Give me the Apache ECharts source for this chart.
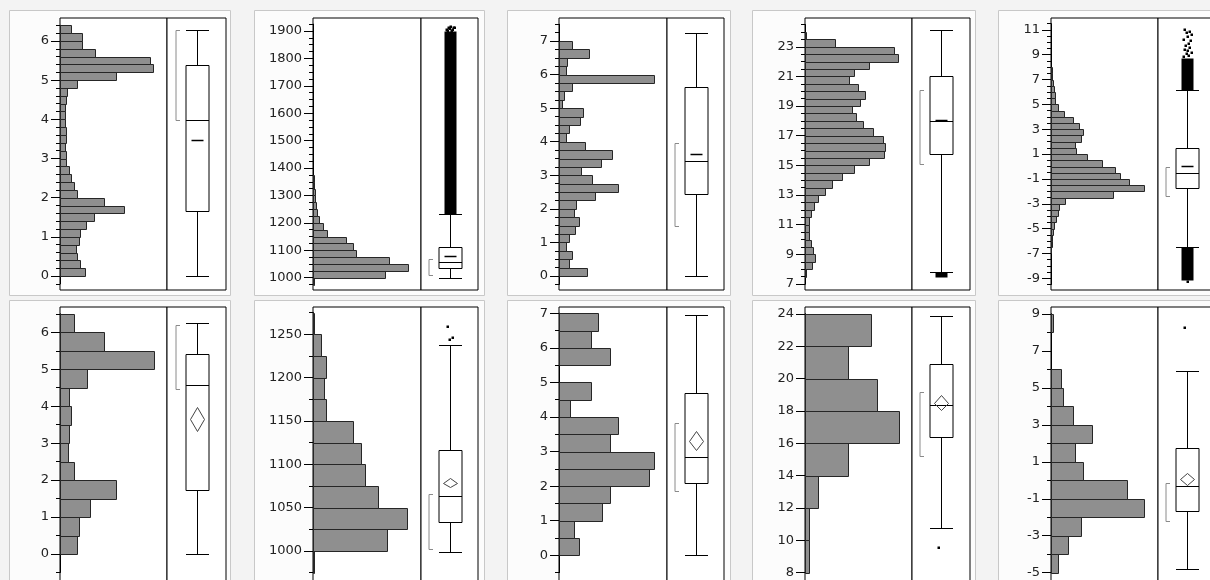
<!DOCTYPE html>
<html>
<head>
<meta charset="utf-8">
<script src="https://cdn.jsdelivr.net/npm/echarts@6/dist/echarts.min.js"></script>
<style>
html, body { margin: 0; padding: 0; background: #f3f3f3; }
#main { width: 1210px; height: 580px; }
</style>
</head>
<body>
<div id="main"></div>
<script>
// panel order: top row left -> right, then bottom row left -> right
// histogram counts, lowest bin first
var histCounts = [
    [74, 59, 52, 48, 56, 59, 78, 101, 192, 132, 52, 41, 33, 26, 18, 18, 15, 18, 18, 14, 14, 15, 18, 22, 52, 169, 281, 270, 105, 67, 67, 33],
    [2, 215, 283, 228, 128, 120, 98, 41, 30, 19, 13, 9, 7, 5, 3, 2],
    [83, 30, 38, 22, 30, 49, 60, 45, 52, 108, 176, 98, 67, 124, 157, 78, 22, 31, 64, 71, 8, 15, 38, 282, 22, 25, 90, 38],
    [3, 22, 29, 25, 17, 13, 13, 13, 17, 28, 40, 59, 82, 112, 148, 194, 239, 242, 235, 206, 175, 153, 142, 165, 182, 160, 133, 148, 194, 280, 268, 89, 3],
    [1, 2, 4, 6, 10, 16, 20, 25, 43, 186, 281, 236, 209, 193, 153, 108, 76, 73, 89, 96, 83, 66, 40, 20, 13, 11, 8, 5, 3, 2],
    [50, 57, 90, 170, 42, 23, 27, 34, 27, 80, 282, 132, 42],
    [2, 221, 281, 194, 154, 142, 119, 40, 33, 40, 25, 2],
    [61, 45, 128, 151, 268, 283, 151, 177, 34, 95, 0, 151, 94, 117],
    [13, 13, 40, 130, 282, 217, 130, 198],
    [21, 51, 89, 281, 228, 96, 73, 123, 66, 36, 29, 0, 0, 6]
];
var binStart = [0, 975, 0, 7.5, -7, 0, 975, 0, 8, -5];
var binWidth = [0.2, 25, 0.25, 0.5, 0.5, 0.5, 25, 0.5, 2, 1];

// [lower whisker, q1, median, q3, upper whisker]
var boxStats = [
    [0, 1.65, 3.98, 5.38, 6.28],
    [1000, 1034, 1056, 1111, 1231],
    [0, 2.45, 3.44, 5.62, 7.25],
    [7.81, 15.77, 17.97, 21.04, 24.1],
    [-6.46, -1.7, -0.52, 1.52, 6.19],
    [0, 1.72, 4.57, 5.42, 6.26],
    [999, 1033, 1064, 1116, 1238],
    [0, 2.1, 2.83, 4.7, 6.95],
    [10.78, 16.38, 18.37, 20.93, 23.88],
    [-4.78, -1.66, -0.33, 1.75, 5.92]
];
var means = [3.47, 1080, 3.63, 18.05, 0.04, 3.65, 1079, 3.32, 18.52, 0.09];
var meanCI = [null, null, null, null, null, [3.33, 3.97], [1073.5, 1084.5], [3.04, 3.6], [18.05, 18.99], [-0.24, 0.42]];
var shortestHalf = [[3.98, 6.28], [1010, 1067], [1.49, 3.96], [15.06, 20.1], [-2.35, -0.01],
                    [4.47, 6.2], [1002, 1066], [1.85, 3.84], [15.19, 19.2], [-2.2, -0.13]];
var outlierRuns = [[], [[1232, 1900]], [], [[7.5, 7.8]], [[6.2, 8.72], [-9.12, -6.46]], [], [], [], [], []];
var outlierPoints = [
    [], [1903, 1907, 1911, 1914, 1917, 1909, 1913, 1905, 1915], [], [],
    [11.05, 10.95, 10.8, 10.7, 10.5, 10.3, 10.15, 9.95, 9.8, 9.65, 9.5, 9.35, 9.25, 9.1, 9.0, 8.9, -9.2],
    [], [1260, 1247, 1245], [], [9.57], [8.3]
];

// axis ranges and ticks
var yRange = [[-0.357, 6.587], [955.1, 1947.5], [-0.417, 7.686], [6.595, 24.94], [-9.942, 11.958],
              [-0.866, 6.685], [959.6, 1281.5], [-0.888, 7.182], [7.18, 24.43], [-5.72, 9.378]];
var tickMarks = [[-0.2, 6.4, 0.2], [975, 1925, 25], [-0.25, 7.5, 0.25], [7, 24.5, 0.5], [-9.5, 11.5, 0.5],
                 [-0.5, 6.5, 0.5], [975, 1275, 25], [-0.5, 7, 0.5], [8, 24, 2], [-5, 9, 1]];
var tickLabels = [[0, 6, 1], [1000, 1900, 100], [0, 7, 1], [7, 23, 2], [-9, 11, 2],
                  [0, 6, 1], [1000, 1250, 50], [0, 7, 1], [8, 24, 2], [-5, 9, 2]];
var countMax = 322;

// layout
var colX = [[60, 167, 226], [313, 421, 478], [559, 667, 724], [805, 912, 970], [1051, 1158, 1216]];
var rowY = [[18, 290], [307, 586]];
var panelX = [[9, 230], [254, 484], [507, 730], [752, 975], [998, 1224]];
var panelY = [[10, 295], [300, 600]];
var jitter = [-3, 2, -1, 4, 0, -4, 3, 1, -2, 2, -3, 0, 4, -1, 1, -4, 0];

var option = {
    backgroundColor: '#f3f3f3',
    animation: false,
    grid: [], xAxis: [], yAxis: [], series: [],
    graphic: { elements: [] }
};

function addGrid(g, xa, ya) {
    g.outerBoundsMode = 'none';
    g.containLabel = false;
    option.grid.push(g);
    var i = option.grid.length - 1;
    xa.gridIndex = i;
    ya.gridIndex = i;
    option.xAxis.push(xa);
    option.yAxis.push(ya);
    return i;
}

function hiddenAxis(min, max) {
    return { type: 'value', min: min, max: max, show: false, splitLine: { show: false } };
}

function tickAxis(t, len, withLabels) {
    return {
        type: 'value', min: t[0], max: t[1], interval: t[2],
        position: 'left',
        axisLine: { show: true, onZero: false, lineStyle: { color: '#000', width: 1 } },
        axisTick: { show: true, inside: false, length: len, lineStyle: { color: '#000', width: 1 } },
        axisLabel: {
            show: withLabels, margin: 11, color: '#222',
            fontSize: 13, fontFamily: 'DejaVu Sans',
            formatter: function (v) { return String(v); }
        },
        splitLine: { show: false }
    };
}

for (var p = 0; p < 10; p++) {
    (function (p) {
        var row = Math.floor(p / 5), col = p % 5;
        var cx = colX[col], ry = rowY[row], r = yRange[p];
        var yPix = function (v) {
            return ry[1] - (v - r[0]) / (r[1] - r[0]) * (ry[1] - ry[0]);
        };

        option.graphic.elements.push({
            type: 'rect', z: -10, silent: true,
            shape: { x: panelX[col][0] + 0.5, y: panelY[row][0] + 0.5,
                     width: panelX[col][1] - panelX[col][0], height: panelY[row][1] - panelY[row][0] },
            style: { fill: '#fcfcfc', stroke: '#c8c8c8', lineWidth: 1 }
        });

        var frame = { show: true, backgroundColor: '#fff', borderColor: '#000', borderWidth: 1 };
        var hg = addGrid(Object.assign({ left: cx[0], top: ry[0], width: cx[1] - cx[0], height: ry[1] - ry[0] }, frame),
            hiddenAxis(0, countMax), hiddenAxis(r[0], r[1]));
        var bg = addGrid(Object.assign({ left: cx[1], top: ry[0], width: cx[2] - cx[1], height: ry[1] - ry[0] }, frame),
            hiddenAxis(0, 1), hiddenAxis(r[0], r[1]));

        var t = tickMarks[p];
        addGrid({ left: cx[0], top: yPix(t[1]), width: 10, height: yPix(t[0]) - yPix(t[1]), z: 5 },
            hiddenAxis(0, 1), tickAxis(t, 4, false));
        var L = tickLabels[p];
        addGrid({ left: cx[0], top: yPix(L[1]), width: 10, height: yPix(L[0]) - yPix(L[1]), z: 5 },
            hiddenAxis(0, 1), tickAxis(L, 9, true));

        // histogram bars
        var bars = histCounts[p].map(function (c, i) {
            return [c, binStart[p] + i * binWidth[p], binStart[p] + (i + 1) * binWidth[p]];
        });
        option.series.push({
            type: 'custom', xAxisIndex: hg, yAxisIndex: hg,
            data: bars, encode: { x: 0, y: [1, 2] },
            renderItem: function (params, api) {
                var c = api.value(0);
                if (!c) return null;
                var a = api.coord([0, api.value(2)]);
                var b = api.coord([c, api.value(1)]);
                return {
                    type: 'rect',
                    shape: { x: Math.round(a[0]) + 0.5, y: Math.round(a[1]) + 0.5,
                             width: Math.round(b[0] - a[0]), height: Math.round(b[1]) - Math.round(a[1]) },
                    style: { fill: '#8f8f8f', stroke: '#262626', lineWidth: 1 }
                };
            }
        });

        // box plot
        var s = boxStats[p];
        option.series.push({
            type: 'custom', xAxisIndex: bg, yAxisIndex: bg,
            data: [[0.5, s[2]]], encode: { x: 0, y: 1 },
            renderItem: function (params, api) {
                var x = Math.round(api.coord([0.5, s[2]])[0]) + 0.5;
                var y = function (v) { return Math.round(api.coord([0.5, v])[1]) + 0.5; };
                var hw = 11.5, kids = [];
                var line = function (x1, y1, x2, y2, color, w) {
                    kids.push({ type: 'line', shape: { x1: x1, y1: y1, x2: x2, y2: y2 },
                        style: { stroke: color || '#000', lineWidth: w || 1 } });
                };
                line(x, y(s[0]), x, y(s[4]));
                line(x - hw, y(s[0]), x + hw, y(s[0]));
                line(x - hw, y(s[4]), x + hw, y(s[4]));
                kids.push({ type: 'rect', shape: { x: x - hw, y: y(s[3]), width: 2 * hw, height: y(s[1]) - y(s[3]) },
                    style: { fill: '#fff', stroke: '#000', lineWidth: 1 } });
                line(x - hw, y(s[2]), x + hw, y(s[2]));
                var ci = meanCI[p];
                if (ci) {
                    kids.push({ type: 'polygon',
                        shape: { points: [[x, y(ci[1])], [x + 7, y(means[p])], [x, y(ci[0])], [x - 7, y(means[p])]] },
                        style: { fill: 'none', stroke: '#444', lineWidth: 1 } });
                } else {
                    line(x - 6, y(means[p]), x + 6, y(means[p]), '#000', 1.5);
                }
                var h = shortestHalf[p], bx = x - 21.5;
                kids.push({ type: 'polyline',
                    shape: { points: [[bx + 4, y(h[1])], [bx, y(h[1])], [bx, y(h[0])], [bx + 4, y(h[0])]] },
                    style: { fill: 'none', stroke: '#8a8a8a', lineWidth: 1 } });
                outlierRuns[p].forEach(function (o) {
                    kids.push({ type: 'rect', shape: { x: x - 6, y: y(o[1]), width: 12, height: y(o[0]) - y(o[1]) },
                        style: { fill: '#000' } });
                });
                outlierPoints[p].forEach(function (v, i) {
                    kids.push({ type: 'rect', shape: { x: x + jitter[i] - 1, y: y(v) - 1, width: 2.5, height: 2.5 },
                        style: { fill: '#000' } });
                });
                return { type: 'group', children: kids };
            }
        });
    })(p);
}

var chart = echarts.init(document.getElementById('main'));
chart.setOption(option);
</script>
</body>
</html>
